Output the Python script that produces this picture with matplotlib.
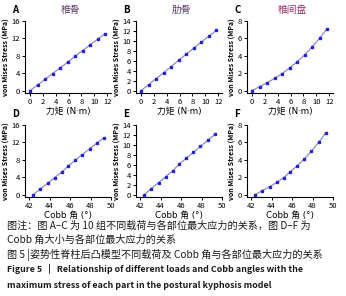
import matplotlib
matplotlib.use("Agg")
import matplotlib.pyplot as plt

plt.rcParams['font.family'] = ['Noto Sans CJK SC', 'DejaVu Sans']

# Data
moment = [0, 1.17, 2.33, 3.5, 4.67, 5.83, 7.0, 8.17, 9.33, 10.5, 11.67]
cobb = [42.4, 43.1, 43.8, 44.5, 45.2, 45.8, 46.5, 47.2, 47.9, 48.6, 49.3]
vertebra = [0, 1.3, 2.6, 3.9, 5.2, 6.5, 7.9, 9.2, 10.5, 11.8, 13.1]
rib = [0, 1.2, 2.4, 3.6, 4.8, 6.1, 7.3, 8.5, 9.7, 10.9, 12.1]
disc = [0, 0.45, 0.9, 1.4, 1.95, 2.6, 3.3, 4.1, 5.0, 6.0, 7.1]

titles = ['椎骨', '肋骨', '椎间盘']
title_colors = ['#5b3a66', '#5b3a66', '#9a2f62']
letters_top = ['A', 'B', 'C']
letters_bottom = ['D', 'E', 'F']
series = [vertebra, rib, disc]
ymax = [16, 14, 8]
ystep = [4, 2, 2]

W, H = 346, 296
fig = plt.figure(figsize=(W / 100, H / 100), dpi=100)

lefts = [25, 136, 247]
width = 86
rows = [(21, 93), (125, 197)]

line_c = '#8c8cc8'
mark_c = '#2222dd'
lab_font = ['DejaVu Sans', 'Noto Sans CJK SC']


def style(ax):
    for s in ['top', 'right']:
        ax.spines[s].set_visible(False)
    for s in ['left', 'bottom']:
        ax.spines[s].set_linewidth(0.8)
    ax.tick_params(labelsize=5.5, length=2, width=0.7, pad=1.5)


for i in range(3):
    for r, (top, bot) in enumerate(rows):
        ax = fig.add_axes([lefts[i] / W, 1 - bot / H, width / W, (bot - top) / H])
        style(ax)
        ys = series[i]
        if r == 0:
            xs = moment
            ax.set_xlim(-0.8, 12.6)
            ax.set_xticks(range(0, 13, 2))
            ax.set_xlabel('力矩 (N·m)', fontsize=6.3, labelpad=0.5, family=lab_font)
        else:
            xs = cobb
            ax.set_xlim(41.6, 50)
            ax.set_xticks(range(42, 51, 2))
            ax.set_xlabel('Cobb 角 (°)', fontsize=6.3, labelpad=0.5, family=lab_font)
        ax.plot(xs, ys, color=line_c, lw=0.9, marker='s', ms=1.5,
                mfc=mark_c, mec=mark_c)
        ax.set_ylim(-ymax[i] * 0.035, ymax[i])
        ax.set_yticks(range(0, ymax[i] + 1, ystep[i]))
        ax.set_ylabel('von Mises Stress (MPa)', fontsize=5, fontweight='bold', labelpad=2)
        letter = letters_top[i] if r == 0 else letters_bottom[i]
        fig.text((lefts[i] - 13) / W, 1 - (top - 11) / H, letter,
                 fontsize=7, fontweight='bold', ha='left', va='center')
        if r == 0:
            fig.text((lefts[i] + 45) / W, 1 - 10 / H, titles[i],
                     fontsize=7, color=title_colors[i], ha='center', va='center')

caption = [
    ('图注：图 A–C 为 10 组不同载荷与各部位最大应力的关系，图 D–F 为', 226, 'normal', 7.3),
    ('Cobb 角大小与各部位最大应力的关系', 240, 'normal', 7.3),
    ('图 5 |姿势性脊柱后凸模型不同载荷及 Cobb 角与各部位最大应力的关系', 255, 'normal', 7.3),
    ('Figure 5   |   Relationship of different loads and Cobb angles with the', 269, 'bold', 6.4),
    ('maximum stress of each part in the postural kyphosis model', 285, 'bold', 6.4),
]
for txt, y, wgt, fs in caption:
    fig.text(7 / W, 1 - y / H, txt, fontsize=fs, fontweight=wgt,
             ha='left', va='center', color='#1a1a1a')

fig.savefig('out.png', dpi=100)
